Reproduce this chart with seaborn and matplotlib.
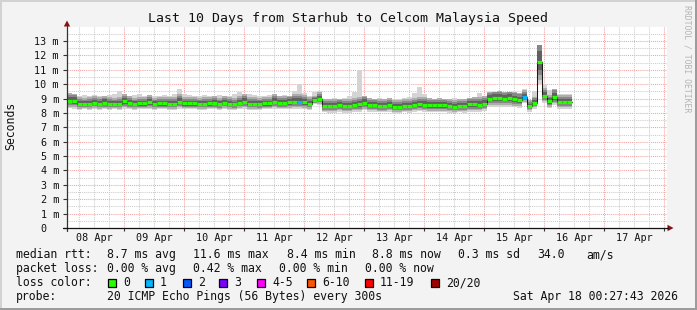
import numpy as np
import pandas as pd
import matplotlib
matplotlib.use("Agg")
import matplotlib.pyplot as plt
from matplotlib.patches import Rectangle, Polygon
from matplotlib.lines import Line2D
import seaborn as sns

sns.set_theme(style="white")
plt.rcParams['font.family'] = ['DejaVu Sans Mono', 'DejaVu Sans']

# ---------------- data ----------------
title = "Last 10 Days from Starhub to Celcom Malaysia Speed"
ylabel = "Seconds"
credit = "RRDTOOL / TOBI OETIKER"
first_sample = "2026-04-08 01:12"
step_hours = 2
view_start = "2026-04-08 01:12"
view_days = 10

median_ms = [
    8.85, 8.85, 8.64, 8.64, 8.64, 8.72, 8.64, 8.72, 8.64, 8.64,
    8.64, 8.81, 8.69, 8.62, 8.67, 8.67, 8.74, 8.62, 8.67, 8.67,
    8.64, 8.64, 8.79, 8.67, 8.67, 8.67, 8.62, 8.64, 8.67, 8.69,
    8.62, 8.72, 8.64, 8.60, 8.72, 8.79, 8.64, 8.64, 8.62, 8.67,
    8.67, 8.79, 8.69, 8.69, 8.74, 8.79, 8.79, 8.74, 8.64, 8.90,
    9.00, 8.50, 8.48, 8.48, 8.55, 8.48, 8.48, 8.55, 8.60, 8.72,
    8.55, 8.55, 8.50, 8.50, 8.55, 8.44, 8.44, 8.50, 8.48, 8.55,
    8.62, 8.58, 8.52, 8.52, 8.52, 8.52, 8.48, 8.44, 8.50, 8.48,
    8.60, 8.60, 8.58, 8.64, 9.00, 9.02, 9.02, 9.00, 9.02, 8.95,
    8.90, 9.13, 8.48, 8.71, 11.57, 9.20, 8.80, 9.13, 8.76, 8.76,
    8.76,
]
smoke_hi_ms = [
    9.40, 9.30, 9.20, 9.25, 9.20, 9.25, 9.20, 9.20, 9.25, 9.30,
    9.55, 9.30, 9.20, 9.25, 9.30, 9.20, 9.25, 9.20, 9.20, 9.25,
    9.20, 9.30, 9.65, 9.30, 9.25, 9.20, 9.20, 9.25, 9.20, 9.20,
    9.25, 9.20, 9.20, 9.30, 9.48, 9.30, 9.35, 9.25, 9.20, 9.20,
    9.25, 9.30, 9.20, 9.25, 9.20, 9.50, 10.00, 9.40, 9.20, 9.45,
    9.50, 9.00, 9.00, 9.05, 9.00, 9.05, 9.20, 9.45, 11.00, 9.20,
    9.05, 9.00, 9.05, 9.00, 9.05, 9.00, 9.00, 9.05, 9.10, 9.40,
    9.83, 9.30, 9.05, 9.00, 9.05, 9.00, 9.00, 9.05, 9.00, 9.00,
    9.05, 9.10, 9.37, 9.20, 9.45, 9.45, 9.50, 9.45, 9.45, 9.45,
    9.40, 9.70, 8.90, 9.55, 12.70, 10.00, 9.60, 9.70, 9.35, 9.30,
    9.30,
]
smoke_lo_ms = [
    8.35, 8.30, 8.22, 8.25, 8.22, 8.28, 8.22, 8.25, 8.22, 8.25,
    8.22, 8.30, 8.25, 8.22, 8.25, 8.25, 8.28, 8.22, 8.25, 8.25,
    8.22, 8.22, 8.30, 8.25, 8.25, 8.25, 8.22, 8.22, 8.25, 8.25,
    8.20, 8.28, 8.22, 8.20, 8.28, 8.30, 8.22, 8.22, 8.20, 8.25,
    8.25, 8.30, 8.25, 8.25, 8.28, 8.30, 8.30, 8.28, 8.22, 8.60,
    8.55, 8.05, 8.02, 8.02, 8.08, 8.02, 8.02, 8.08, 8.10, 8.20,
    8.08, 8.08, 8.05, 8.05, 8.08, 8.00, 8.00, 8.05, 8.02, 8.08,
    8.12, 8.10, 8.05, 8.05, 8.05, 8.05, 8.02, 8.00, 8.05, 8.02,
    8.10, 8.10, 8.10, 8.15, 8.45, 8.45, 8.45, 8.45, 8.45, 8.40,
    8.38, 8.70, 8.10, 8.30, 10.00, 8.70, 8.35, 8.55, 8.30, 8.30,
    8.30,
]
loss_at_sample = {46: 1, 91: 1}   # sample index -> lost pings (of 20)

y_ticks = list(range(0, 14))
y_tick_labels = ["0  "] + [f"{v} m" for v in range(1, 14)]
day_labels = ["08 Apr", "09 Apr", "10 Apr", "11 Apr", "12 Apr",
              "13 Apr", "14 Apr", "15 Apr", "16 Apr", "17 Apr"]
first_label_day = "2026-04-08 12:00"

loss_labels = ["0", "1", "2", "3", "4-5", "6-10", "11-19", "20/20"]
loss_colors = ["#26ff00", "#00b8ff", "#0059ff", "#7e00ff",
               "#ff00ff", "#ff5500", "#ff0000", "#a10000"]

rtt_stats = ["8.7 ms avg", "11.6 ms max", "8.4 ms min", "8.8 ms now",
             "0.3 ms sd", "34.0", "am/s"]
loss_stats = ["0.00 % avg", "0.42 % max", "0.00 % min", "0.00 % now"]
probe_text = "20 ICMP Echo Pings (56 Bytes) every 300s"
stamp_text = "Sat Apr 18 00:27:43 2026"

# ---------------- figure ----------------
W, H = 697, 310
fig = plt.figure(figsize=(W / 100, H / 100), dpi=100)
fig.patch.set_facecolor("#f3f3f3")

def fx(x):
    return x / W

def fy(y):
    return 1 - y / H

# frame shading
fig.add_artist(Rectangle((0, fy(2)), 1, 2 / H, transform=fig.transFigure, color="#d2d2d2", lw=0))
fig.add_artist(Rectangle((0, 0), 2 / W, 1, transform=fig.transFigure, color="#d2d2d2", lw=0))
fig.add_artist(Rectangle((0, 0), 1, 2 / H, transform=fig.transFigure, color="#9c9c9c", lw=0))
fig.add_artist(Rectangle((1 - 2 / W, 0), 2 / W, 1, transform=fig.transFigure, color="#9c9c9c", lw=0))

ax_left, ax_right, ax_top, ax_bot = 67, 667, 26.7, 228
ax = fig.add_axes([fx(ax_left), fy(ax_bot), (ax_right - ax_left) / W, (ax_bot - ax_top) / H])
ax.set_facecolor("white")
for s in ax.spines.values():
    s.set_visible(False)

t0 = pd.Timestamp(first_sample)
step = pd.Timedelta(hours=step_hours)
times = pd.DatetimeIndex([t0 + i * step for i in range(len(median_ms))])
med = np.array(median_ms)
hi = np.array(smoke_hi_ms)
lo = np.array(smoke_lo_ms)

x0 = pd.Timestamp(view_start)
x1 = x0 + pd.Timedelta(days=view_days)
ax.set_xlim(x0, x1)
ax.set_ylim(0, 14)

# grid
for v in np.arange(0.5, 14, 0.5):
    major = float(v).is_integer()
    ax.axhline(v, color="#f4a3a3" if major else "#cccccc", lw=0.75,
               linestyle=(0, (1, 1)), zorder=0.5)
for t in pd.date_range(x0.ceil("6h"), x1, freq="6h"):
    major = t.hour == 0
    ax.axvline(t, color="#f4a3a3" if major else "#cccccc", lw=0.75,
               linestyle=(0, (1, 1)), zorder=0.5)

# smoke
edges = pd.DatetimeIndex(list(times) + [times[-1] + step])
def ext(a):
    return np.append(a, a[-1])
spread = med - lo
layers = [(1.0, "#d4d4d4"), (0.8, "#adadad"), (0.58, "#878787"), (0.36, "#606060")]
for f, col in layers:
    if f == 1.0:
        lower, upper = lo, hi
    else:
        lower = med - f * spread
        upper = np.minimum(med + f * 1.3 * spread, hi)
    ax.fill_between(edges, ext(lower), ext(upper), step="post", color=col, lw=0, zorder=1)

# median line (black) with seaborn
df = pd.DataFrame({"time": edges, "median": ext(med)})
sns.lineplot(data=df, x="time", y="median", drawstyle="steps-post", color="#1a1a1a",
             lw=0.75, ax=ax, zorder=2)

# loss coloured median segments
def loss_color(n):
    bins = [(0, 0), (1, 1), (2, 2), (3, 3), (4, 5), (6, 10), (11, 19), (20, 20)]
    for (a, b), c in zip(bins, loss_colors):
        if a <= n <= b:
            return c
    return loss_colors[-1]
seg_colors = [loss_color(loss_at_sample.get(i, 0)) for i in range(len(med))]
ax.hlines(med, edges[:-1], edges[1:], colors=seg_colors, lw=2.3, zorder=3)

# ticks
ax.set_yticks(y_ticks)
ax.set_yticklabels(y_tick_labels)
ax.set_xticks(pd.date_range(first_label_day, periods=len(day_labels), freq="D"))
ax.set_xticklabels(day_labels)
ax.set_xticks(pd.date_range(x0.ceil("D"), x1, freq="D"), minor=True)
ax.tick_params(axis="y", which="major", length=3, width=0.8, color="#333333",
               pad=2.8, labelsize=7.3, labelcolor="#111111", left=True)
ax.tick_params(axis="x", which="major", length=0, pad=3.6, labelsize=7.3,
               labelcolor="#111111", bottom=True)
ax.tick_params(axis="x", which="minor", length=2.5, width=0.8, color="#333333", bottom=True)
ax.set_xlabel("")
ax.set_ylabel("")

# axis lines + arrows
fig.add_artist(Line2D([fx(67), fx(67)], [fy(231), fy(26)], transform=fig.transFigure,
                      color="#333333", lw=0.9))
fig.add_artist(Line2D([fx(63), fx(668)], [fy(228), fy(228)], transform=fig.transFigure,
                      color="#111111", lw=0.9))
fig.add_artist(Polygon([[fx(67), fy(20.5)], [fx(63.8), fy(26.5)], [fx(70.2), fy(26.5)]],
                       closed=True, transform=fig.transFigure, color="#8b1010", lw=0))
fig.add_artist(Polygon([[fx(673.5), fy(228)], [fx(667.5), fy(224.8)], [fx(667.5), fy(231.2)]],
                       closed=True, transform=fig.transFigure, color="#8b1010", lw=0))

# texts
fig.text(fx(348), fy(18.5), title, ha="center", va="center", fontsize=9.5, color="#111111")
fig.text(fx(11), fy(126), ylabel, ha="center", va="center", rotation=90, fontsize=8.3,
         color="#111111")
fig.text(fx(687), fy(59), credit, ha="center", va="center", rotation=270, fontsize=5.9,
         color="#b4b4b4")

LF = 8.3
def put(s, x, y):
    fig.text(fx(x), fy(y), s, ha="left", va="center", fontsize=LF, color="#111111")

put("median rtt:", 16, 254.5)
for s, x in zip(rtt_stats, [107, 193, 287, 372, 458, 537, 586]):
    put(s, x, 254.5)
put("packet loss:", 16, 268.5)
for s, x in zip(loss_stats, [107, 193, 279, 365]):
    put(s, x, 268.5)
put("loss color:", 16, 282.5)
box_x = [108, 145, 183, 219, 257, 307, 365, 431]
for lab, col, bx in zip(loss_labels, loss_colors, box_x):
    fig.add_artist(Rectangle((fx(bx), fy(286.5)), 8 / W, 8 / H, transform=fig.transFigure,
                             facecolor=col, edgecolor="black", lw=0.9))
    put(lab, bx + 15, 282.5)
put("probe:", 16, 296.5)
put(probe_text, 107, 296.5)
put(stamp_text, 513, 296.5)

fig.savefig("out.png", dpi=100, facecolor=fig.get_facecolor())
